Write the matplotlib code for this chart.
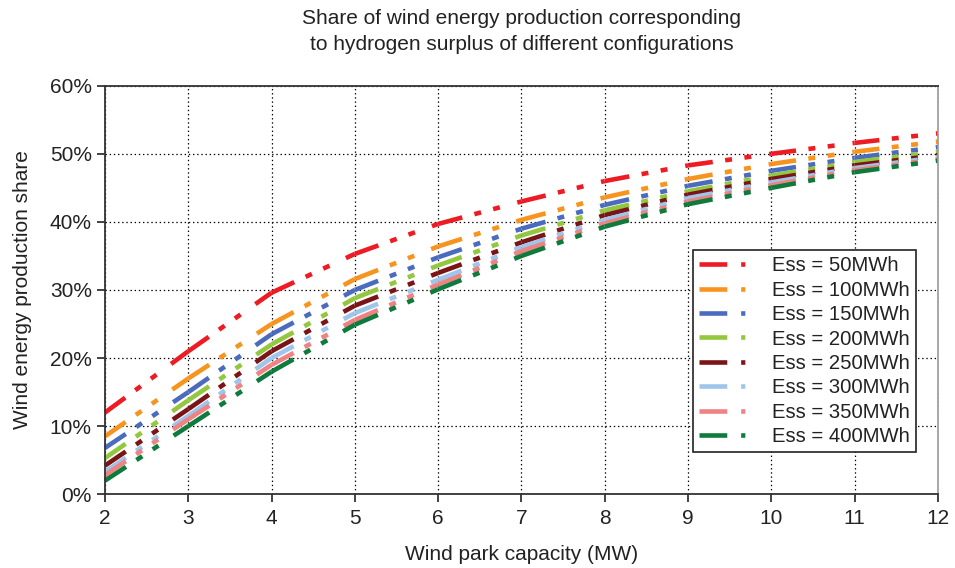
import matplotlib
matplotlib.use("Agg")
import matplotlib.pyplot as plt
from matplotlib.lines import Line2D
from matplotlib.ticker import PercentFormatter

plt.rcParams["font.family"] = ["Liberation Sans", "DejaVu Sans"]
plt.rcParams["lines.scale_dashes"] = False

capacity = [2, 3, 4, 5, 6, 7, 8, 9, 10, 11, 12]
labels = ["Ess = 50MWh", "Ess = 100MWh", "Ess = 150MWh", "Ess = 200MWh",
          "Ess = 250MWh", "Ess = 300MWh", "Ess = 350MWh", "Ess = 400MWh"]
ess50 = [12.0, 21.0, 29.6, 35.3, 39.7, 43.0, 46.0, 48.3, 50.0, 51.6, 53.0]
ess100 = [8.5, 17.0, 25.0, 31.6, 36.4, 40.3, 43.6, 46.3, 48.5, 50.3, 51.8]
ess150 = [6.8, 15.0, 23.5, 30.0, 34.8, 39.0, 42.5, 45.3, 47.5, 49.4, 51.0]
ess200 = [5.3, 13.8, 22.0, 28.8, 33.6, 38.0, 41.7, 44.5, 46.8, 48.8, 50.3]
ess250 = [4.2, 12.5, 21.0, 27.7, 32.5, 37.0, 41.0, 44.0, 46.3, 48.3, 49.8]
ess300 = [3.3, 11.5, 20.0, 26.6, 31.5, 36.3, 40.3, 43.5, 45.8, 47.9, 49.5]
ess350 = [2.8, 11.0, 19.0, 25.6, 30.8, 35.7, 39.8, 43.0, 45.4, 47.6, 49.2]
ess400 = [2.0, 10.0, 18.0, 24.9, 30.1, 35.0, 39.3, 42.6, 45.0, 47.3, 49.0]
series = [ess50, ess100, ess150, ess200, ess250, ess300, ess350, ess400]
colors = ["#ED1C24", "#F7941D", "#4A6BBE", "#92C73F",
          "#7B1416", "#9DC6EA", "#F08283", "#0E7A3C"]

# long dash, dot, dot (points); pattern restarts at every data point
DASHES = (18, 9, 5, 9, 5, 13)
LW = 3.3

fig = plt.figure(figsize=(9.55, 5.68), dpi=100)
ax = fig.add_axes([0.110, 0.130, 0.872, 0.719])

for vals, col in zip(series, colors):
    for i in range(len(capacity) - 1):
        ax.plot(capacity[i:i + 2], vals[i:i + 2], color=col, linewidth=LW,
                dashes=DASHES, dash_capstyle="butt", clip_on=False)

ax.set_xlim(2, 12)
ax.set_ylim(0, 60)
ax.set_xticks(capacity)
ax.set_yticks(range(0, 61, 10))
ax.yaxis.set_major_formatter(PercentFormatter(decimals=0))
ax.grid(True, color="black", linestyle=(0, (1, 2)), linewidth=0.9)
ax.tick_params(direction="out", length=6, width=1.2, labelsize=15,
               colors="#222222")
ax.tick_params(axis="x", pad=5)
for side in ["left", "bottom", "top"]:
    ax.spines[side].set_linewidth(1.3)
    ax.spines[side].set_color("#333333")
ax.spines["right"].set_color("#999999")
ax.spines["right"].set_linewidth(1.2)

ax.set_xlabel("Wind park capacity (MW)", fontsize=15, color="#222222",
              labelpad=12)
ax.set_ylabel("Wind energy production share", fontsize=15,
              color="#222222", labelpad=13)
ax.set_title("Share of wind energy production corresponding\n"
             "to hydrogen surplus of different configurations",
             fontsize=15, color="#222222", pad=26, linespacing=1.45)

handles = [Line2D([], [], color=c, linewidth=LW, dashes=(20, 10, 3, 40))
               for c in colors]
leg = ax.legend(handles, labels, loc="lower right",
                bbox_to_anchor=(0.9735, 0.103), fontsize=14.6, frameon=True,
                fancybox=False, edgecolor="#222222", framealpha=1,
                handlelength=2.9, handletextpad=0.7, labelspacing=0.265,
                borderpad=0.3, borderaxespad=0)
leg.get_frame().set_linewidth(1.2)
for t in leg.get_texts():
    t.set_color("#222222")

fig.savefig("out.png", dpi=100)
